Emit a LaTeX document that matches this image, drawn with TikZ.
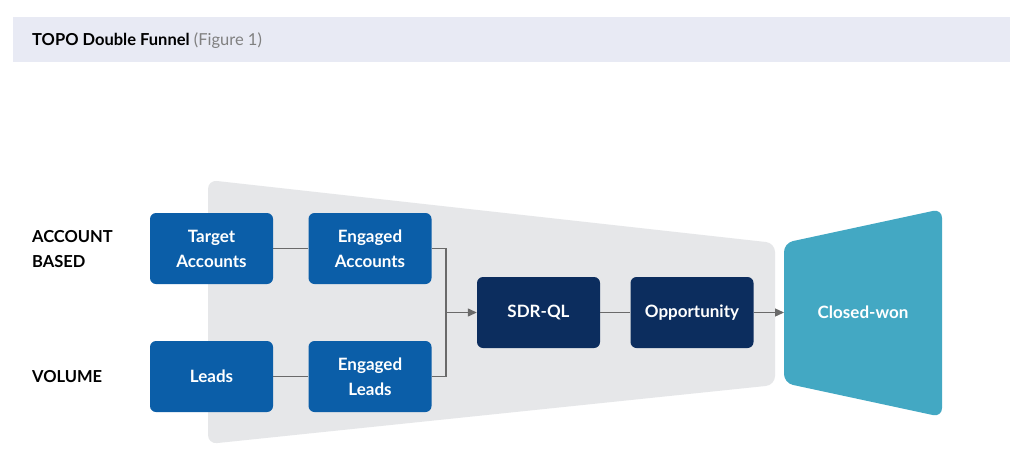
\documentclass[tikz,border=0pt]{standalone}
\usepackage{fontspec}
\setmainfont{Lato}
\usetikzlibrary{arrows.meta}
\definecolor{bandbg}{HTML}{E8EAF4}
\definecolor{funnelbg}{HTML}{E6E7E9}
\definecolor{boxblue}{HTML}{0B5EA8}
\definecolor{boxnavy}{HTML}{0C2D5E}
\definecolor{teal}{HTML}{43A8C3}
\definecolor{linegray}{HTML}{6A6A6A}
\definecolor{txtgray}{HTML}{808080}
\begin{document}
\begin{tikzpicture}[x=1pt,y=-1pt,
  bbox/.style={fill=boxblue,rounded corners=6pt,minimum width=123pt,minimum height=71pt,
    text=white,font=\fontsize{17}{25}\selectfont\bfseries,align=center,inner sep=0pt},
  nbox/.style={bbox,fill=boxnavy},
  conn/.style={draw=linegray,line width=1.3pt},
  arr/.style={conn,-{Triangle[length=9pt,width=8pt]}},
  side/.style={anchor=west,font=\fontsize{16.5}{25}\selectfont\bfseries,align=left,text=black,inner sep=0pt}]
\useasboundingbox (0,0) rectangle (1024,471);
\fill[white] (0,0) rectangle (1024,471);
% header band
\fill[bandbg] (13,17) rectangle (1010,62);
\node[anchor=west,inner sep=0pt,font=\fontsize{16.5}{20}\selectfont] (title) at (32,41)
  {\textbf{TOPO Double Funnel} \textcolor{txtgray}{(Figure 1)}};
% grey funnel
\fill[funnelbg,rounded corners=9pt] (208,180) -- (775,243) -- (775,385) -- (208,444) -- cycle;
% closed-won shape
\fill[teal,rounded corners=9pt] (784,243) -- (942,209) -- (942,417) -- (784,383) -- cycle;
\node[text=white,font=\fontsize{17}{20}\selectfont\bfseries] (won) at (863,312) {Closed-won};
\coordinate (wonin) at (784,312.5);
% side labels
\node[side] (acc) at (32,249) {ACCOUNT\\BASED};
\node[side] (vol) at (32,377) {VOLUME};
% boxes
\node[bbox] (ta) at (211.5,248.5) {Target\\Accounts};
\node[bbox] (ea) at (370,248.5) {Engaged\\Accounts};
\node[bbox] (ld) at (211.5,376.5) {Leads};
\node[bbox] (el) at (370,376.5) {Engaged\\Leads};
\node[nbox] (sdr) at (538.5,312.5) {SDR-QL};
\node[nbox] (opp) at (692,312.5) {Opportunity};
% connectors
\coordinate (join) at (446,312.5);
\draw[conn] (ta.east) -- (ea.west);
\draw[conn] (ld.east) -- (el.west);
\draw[conn] (ea.east) -| (join);
\draw[conn] (el.east) -| (join);
\draw[arr] (join) -- (sdr.west);
\draw[conn] (sdr.east) -- (opp.west);
\draw[arr] (opp.east) -- (wonin);
\end{tikzpicture}
\end{document}
